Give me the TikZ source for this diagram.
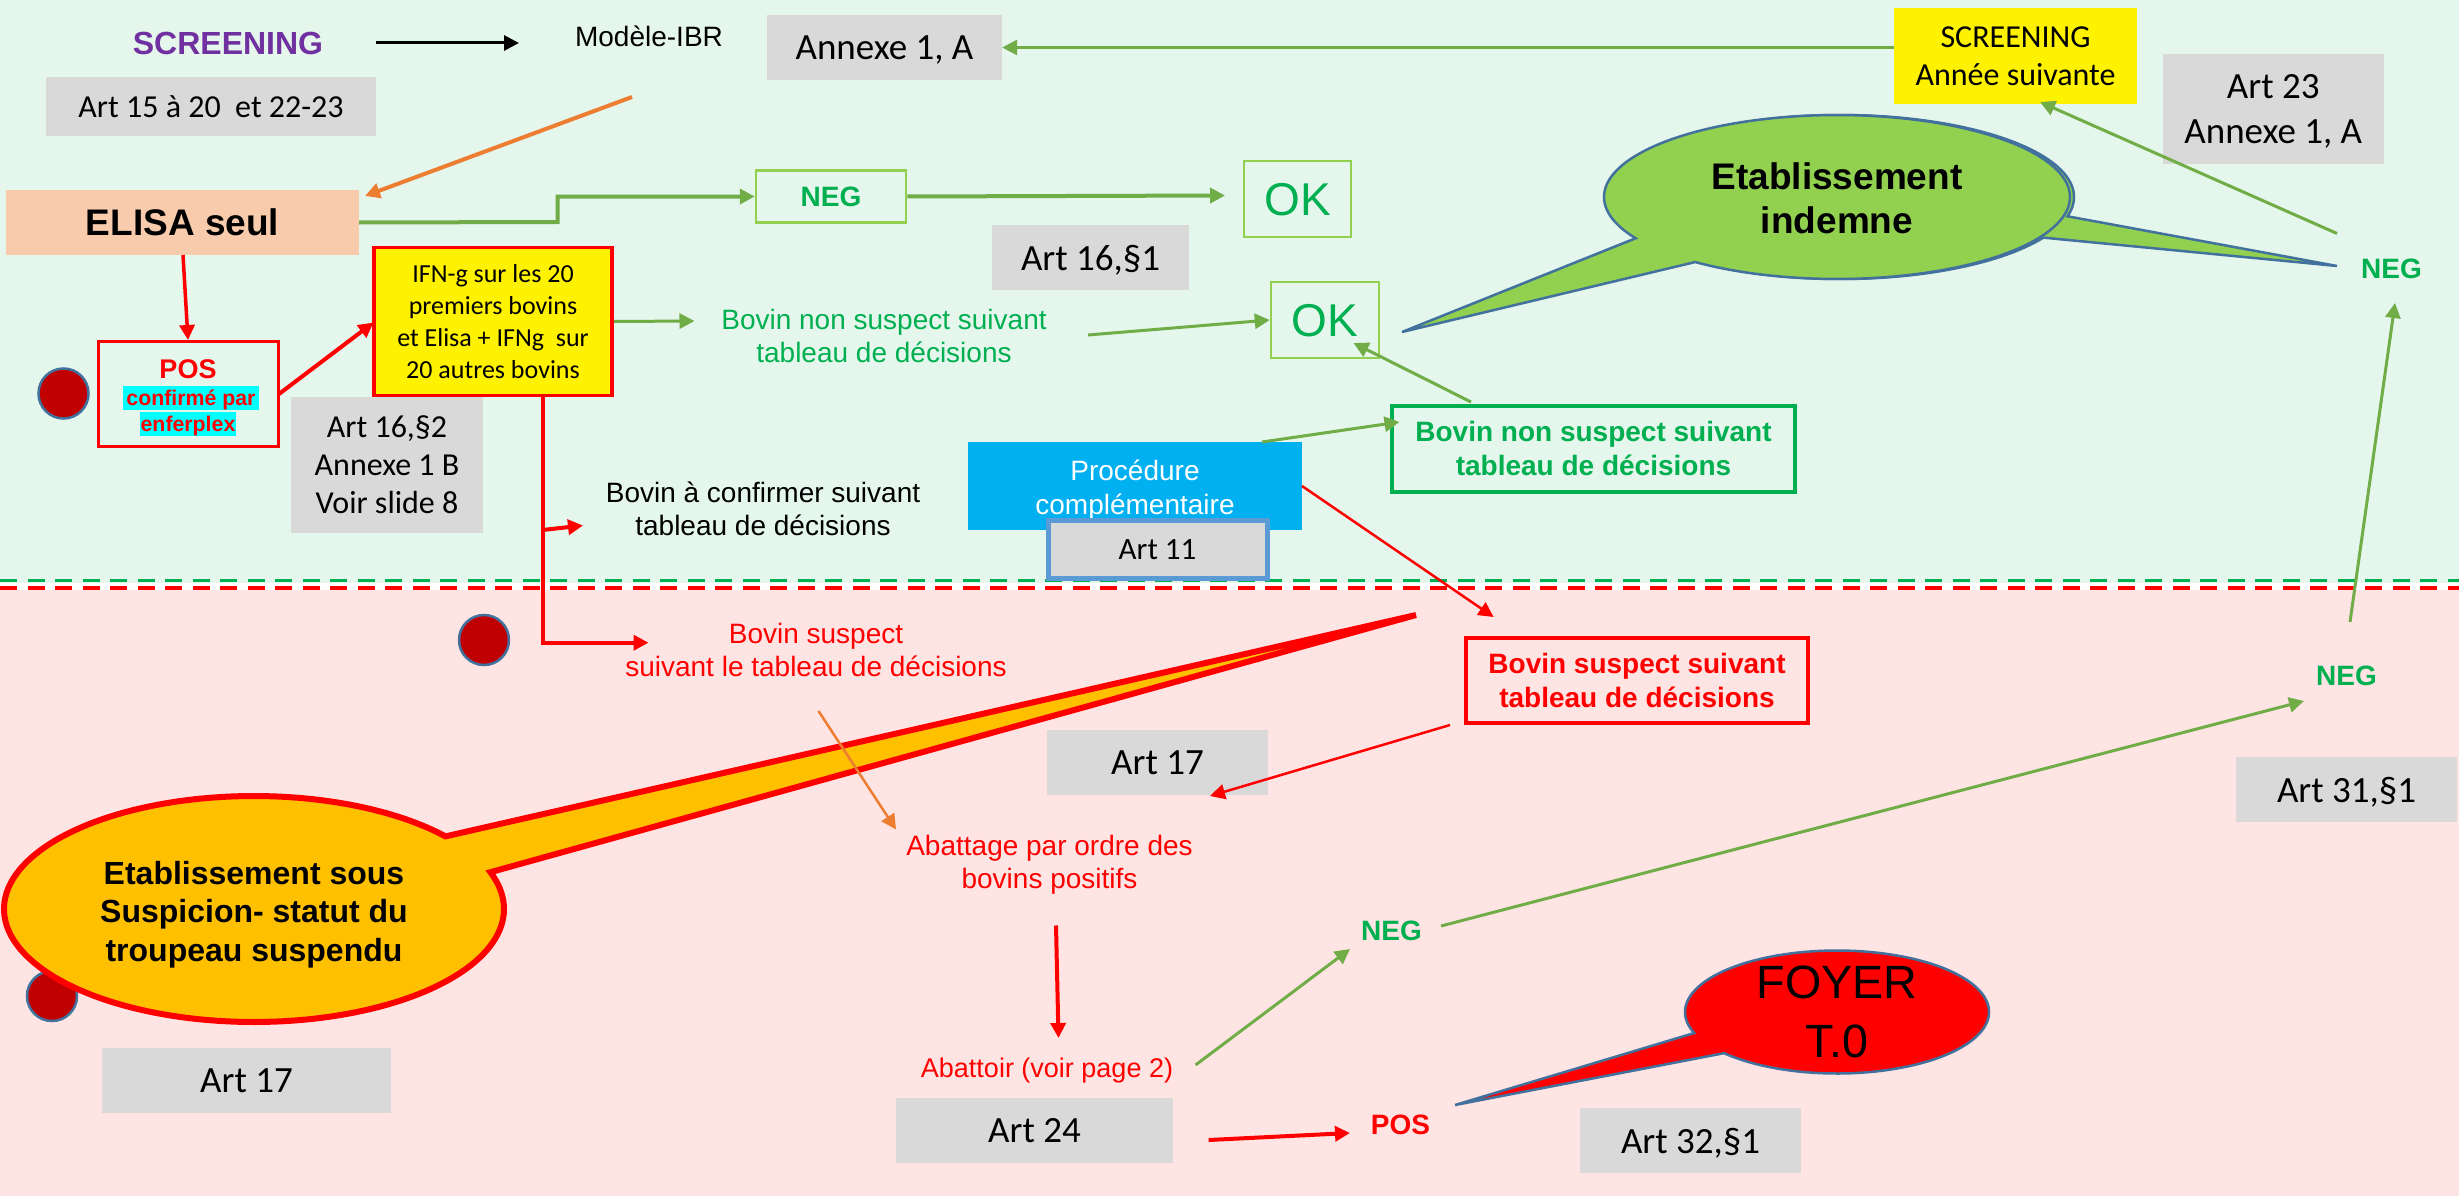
\documentclass[tikz,border=0pt]{standalone}
\usepackage{fontspec}
\setmainfont{Liberation Sans}
\newfontfamily\carl{Carlito}
\usetikzlibrary{arrows.meta,shapes.geometric}
\definecolor{bggreen}{HTML}{E5F6ED}
\definecolor{bgpink}{HTML}{FFE4E4}
\definecolor{boxgray}{HTML}{D9D9D9}
\definecolor{linegreen}{HTML}{70AD47}
\definecolor{lightgreen}{HTML}{92D050}
\definecolor{txtgreen}{HTML}{00B050}
\definecolor{orangeline}{HTML}{ED7D31}
\definecolor{darkred}{HTML}{C00000}
\definecolor{outlineblue}{HTML}{41719C}
\definecolor{purpletxt}{HTML}{7030A0}
\definecolor{skyfill}{HTML}{00B0F0}
\definecolor{amberfill}{HTML}{FFC000}
\definecolor{artborder}{HTML}{5B9BD5}
\definecolor{peachfill}{HTML}{F8CBAD}
\definecolor{hlcyan}{HTML}{00FFFF}
\newcommand\fs[2]{\fontsize{#1}{#2}\selectfont}
\tikzset{
  every node/.append style={text depth=0pt},
  art/.style={fill=boxgray,inner sep=0pt,align=center,text=black,font=\carl\fs{37}{45.5}},
  artsmall/.style={art,font=\carl\fs{32}{38}},
  plain/.style={inner sep=0pt,align=center,font=\fs{28}{33.6}},
  boldt/.style={inner sep=0pt,align=center,font=\bfseries\fs{28}{34.5}},
  dot/.style={ellipse,draw=outlineblue,line width=2.5pt,fill=darkred,inner sep=0pt,minimum width=50pt,minimum height=50pt},
  ga/.style={draw=linegreen,line width=3pt,-{Triangle[length=15pt,width=15pt]}},
  gb/.style={ga,line width=4pt},
  ra/.style={draw=red,line width=2.5pt,-{Triangle[length=15pt,width=15pt]}},
  rb/.style={ra,line width=4pt},
  oa/.style={draw=orangeline,-{Triangle[length=15pt,width=15pt]}},
}
\begin{document}
\begin{tikzpicture}[x=1pt,y=-1pt]
\useasboundingbox (0,0) rectangle (2459,1196);
% backgrounds
\fill[white] (0,0) rectangle (2459,1196);
\fill[bggreen] (0,0) rectangle (2459,583);
\fill[bgpink] (0,589.5) rectangle (2459,1196);
\coordinate (gl) at (0,580.5); \coordinate (gr) at (2459,580.5);
\coordinate (rl) at (0,588); \coordinate (rr) at (2459,588);
\draw[txtgreen,line width=3.5pt,dash pattern=on 17pt off 10.5pt] (gl) -- (gr);
\draw[red,line width=3.5pt,dash pattern=on 17pt off 10.5pt] (rl) -- (rr);

% dots
\node[dot] (dot1) at (63.5,393.5) {};
\node[dot] (dot2) at (484,640) {};
\node[dot] (dot3) at (52,996) {};

% top-left
\node[inner sep=0pt,text=purpletxt,font=\bfseries\fs{32}{38}] (screen) at (228,43) {SCREENING};
\node[inner sep=0pt,font=\fs{28}{33}] (modele) at (649,36) {Modèle-IBR};
\node[artsmall,minimum width=330pt,minimum height=59pt] (art15) at (211,106.5) {Art 15 à 20\ \ et 22-23};
\node[art,minimum width=235pt,minimum height=65pt] (annexeA) at (884.5,47.5) {Annexe 1, A};
\coordinate (s1) at (375.5,43); \coordinate (s2) at (519,43);
\draw[black,line width=3pt,-{Triangle[length=15pt,width=15pt]}] (s1) -- (s2);

\node[fill=yellow,inner sep=0pt,align=center,minimum width=243pt,minimum height=96.5pt,font=\carl\fs{32}{38.5}] (ysc) at (2015.5,56.25) {SCREENING\\Année suivante};
\node[art,minimum width=221.5pt,minimum height=110pt] (art23) at (2273.25,109) {Art 23\\Annexe 1, A};
\draw[ga] (ysc.west |- annexeA.east) -- (annexeA.east);

\node[fill=peachfill,inner sep=0pt,minimum width=353pt,minimum height=65pt,font=\bfseries\fs{37}{44}] (elisa) at (182.5,222.5) {ELISA seul};
\coordinate (o1) at (632,97); \coordinate (o2) at (365,196);
\draw[oa,line width=4pt] (o1) -- (o2);

\node[draw=lightgreen,line width=2.5pt,inner sep=0pt,minimum width=150pt,minimum height=52pt,text=txtgreen,font=\bfseries\fs{28}{33}] (neg1) at (831,196.5) {NEG};
\draw[gb] (elisa.east) -- (557.5,222) -- (557.5,196.5) -- (neg1.west);
\node[draw=lightgreen,line width=2.5pt,inner sep=0pt,minimum width=107pt,minimum height=76pt,text=txtgreen,font=\fs{46}{50}] (ok1) at (1297.5,199) {OK};
\coordinate (n1e) at (1225,195.5);
\draw[gb] (neg1.east) -- (n1e);
\node[art,minimum width=197pt,minimum height=65pt] (art161) at (1090.5,257.5) {Art 16,§1};
\node[draw=lightgreen,line width=2.5pt,inner sep=0pt,minimum width=108pt,minimum height=76pt,text=txtgreen,font=\fs{46}{50}] (ok2) at (1325,320) {OK};

% POS / IFN
\node[draw=red,line width=2.5pt,inner sep=0pt,minimum width=180pt,minimum height=105pt] (posbox) at (188.5,394) {};
\node[inner sep=0pt,text=red,font=\bfseries\fs{27}{32}] (postxt) at (188,369) {POS};
\node[fill=hlcyan,inner sep=0pt,minimum width=136pt,minimum height=24pt,text=red,font=\bfseries\fs{21.3}{24}] (conf) at (191,398) {confirmé par};
\node[fill=hlcyan,inner sep=0pt,minimum width=96pt,minimum height=24pt,text=red,font=\bfseries\fs{21.3}{24}] (enf) at (188,424) {enferplex};
\coordinate (eb) at (183,255); \coordinate (pt) at (188,340);
\draw[ra,line width=3.5pt] (eb) -- (pt);
\node[fill=yellow,draw=red,line width=3.5pt,inner sep=0pt,align=center,minimum width=238pt,minimum height=148pt,font=\carl\fs{26}{32}] (ifn) at (493,321.5) {IFN-g sur les 20\\premiers bovins\\et Elisa + IFNg\ \ sur\\20 autres bovins};
\coordinate (pe) at (279,394); \coordinate (ifnw) at (373.5,322.5);
\draw[rb] (pe) -- (ifnw);
\node[art,font=\carl\fs{32}{38},minimum width=192pt,minimum height=136pt] (art162) at (387,465) {Art 16,§2\\Annexe 1 B\\Voir slide 8};

\node[plain,text=txtgreen] (bns) at (884,336) {Bovin non suspect suivant\\tableau de décisions};
\coordinate (bnsw) at (694.5,321);
\draw[ga] (ifn.east) -- (bnsw);
\coordinate (bnse) at (1088,335);
\draw[ga] (bnse) -- (ok2.west);

\node[draw=txtgreen,line width=4pt,inner sep=0pt,align=center,minimum width=403pt,minimum height=86pt,text=txtgreen,font=\bfseries\fs{28}{34.5}] (bnsb) at (1593.5,448.5) {Bovin non suspect suivant\\tableau de décisions};
\coordinate (bb1) at (1471,402); \coordinate (okb) at (1353.5,343);
\draw[ga] (bb1) -- (okb);

\node[plain] (bconf) at (763,508.5) {Bovin à confirmer suivant\\tableau de décisions};
\node[fill=skyfill,inner sep=0pt,minimum width=334pt,minimum height=88pt] (proc) at (1135,486) {};
\node[plain,text=white] (proct) at (1135,487) {Procédure\\complémentaire};
\coordinate (p1) at (1262,442); \coordinate (p2) at (1399.5,422);
\draw[ga] (p1) -- (p2);
\node[fill=boxgray,draw=artborder,line width=5pt,inner sep=0pt,minimum width=219pt,minimum height=58pt,font=\carl\fs{31}{36}] (art11) at (1157.5,549.5) {Art 11};

% red connectors
\coordinate (ifnb) at (542.5,396);
\coordinate (elb) at (542.5,642.7);
\coordinate (bsw) at (648.5,642.7);
\coordinate (br) at (542.5,530);
\coordinate (bcw) at (583,525.5);
\draw[rb] (ifnb) -- (elb) -- (bsw);
\draw[rb] (br) -- (bcw);

\node[plain,text=red] (bs) at (816,650) {Bovin suspect\\suivant le tableau de décisions};

% big callout
\coordinate (tip1) at (1416,615);
\draw[draw=red,line width=6pt,fill=amberfill] plot[domain=40:379,samples=160,variable=\t] ({254+250*cos(\t)},{909-113*sin(\t)}) -- (tip1) -- cycle;
\node[inner sep=0pt,align=center,font=\bfseries\fs{32}{38.5}] (etab) at (254,911) {Etablissement sous\\Suspicion- statut du\\troupeau suspendu};
\node[art,minimum width=289pt,minimum height=65pt] (art17a) at (246.5,1080.5) {Art 17};

\node[draw=red,line width=4pt,inner sep=0pt,align=center,minimum width=342pt,minimum height=85pt,text=red,font=\bfseries\fs{28}{33.6}] (bsb) at (1637,680.5) {Bovin suspect suivant\\tableau de décisions};
\coordinate (pr) at (1302,486); \coordinate (bst) at (1493.6,617);
\draw[ra] (pr) -- (bst);

\node[art,minimum width=221pt,minimum height=65pt] (art17b) at (1157.5,762.5) {Art 17};
\coordinate (bsl) at (1450,725); \coordinate (a17) at (1210,796);
\draw[ra] (bsl) -- (a17);

\node[plain,text=red] (abg) at (1049.5,862) {Abattage par ordre des\\bovins positifs};
\coordinate (bsb2) at (818.5,711); \coordinate (abgn) at (896,829.5);
\draw[oa,line width=2.5pt] (bsb2) -- (abgn);
\coordinate (ab1) at (1056,925.5); \coordinate (ab2) at (1058.5,1038);
\draw[rb] (ab1) -- (ab2);
\node[inner sep=0pt,text=red,font=\fs{27}{32}] (abt) at (1047,1068) {Abattoir (voir page 2)};
\node[art,minimum width=277pt,minimum height=65pt] (art24) at (1034.5,1130.5) {Art 24};

\node[boldt,text=txtgreen] (neg2) at (1391.5,931) {NEG};
\node[boldt,text=red] (pos2) at (1400.5,1125) {POS};
\coordinate (abe) at (1195.5,1065); \coordinate (negs) at (1350,949);
\draw[ga] (abe) -- (negs);
\coordinate (ar1) at (1208.6,1140); \coordinate (ar2) at (1350,1133);
\draw[rb] (ar1) -- (ar2);

\node[boldt,text=txtgreen] (neg3) at (2346.5,676) {NEG};
\coordinate (n2e) at (1441,926); \coordinate (n3w) at (2304,701);
\draw[ga] (n2e) -- (n3w);
\node[art,minimum width=221pt,minimum height=65pt] (art31) at (2346.5,789.5) {Art 31,§1};

\node[boldt,text=txtgreen] (neg4) at (2391.5,269) {NEG};
\coordinate (n3t) at (2350,622); \coordinate (n4b) at (2395,303);
\draw[ga] (n3t) -- (n4b);
\coordinate (n4l) at (2337,233.5); \coordinate (ysb) at (2040,102);
\draw[ga] (n4l) -- (ysb);

% green callouts
\coordinate (tip2) at (2337,266);
\coordinate (tip3) at (1402,332);
\draw[draw=outlineblue,line width=2.5pt,fill=lightgreen] plot[domain=-13.6:330.3,samples=160,variable=\t] ({1841+233*cos(\t)},{197-82*sin(\t)}) -- (tip2) -- cycle;
\draw[draw=outlineblue,line width=2.5pt,fill=lightgreen] plot[domain=232.5:570.2,samples=160,variable=\t] ({1837+233*cos(\t)},{197-82*sin(\t)}) -- (tip3) -- cycle;
\node[inner sep=0pt,align=center,font=\bfseries\fs{37}{44}] (indem) at (1837,198) {Etablissement\\indemne};

% foyer
\coordinate (tip4) at (1455,1105);
\draw[draw=outlineblue,line width=2.5pt,fill=red] plot[domain=222:560,samples=160,variable=\t] ({1837+152*cos(\t)},{1012-61.5*sin(\t)}) -- (tip4) -- cycle;
\node[inner sep=0pt,align=center,font=\fs{46.7}{59}] (foyer) at (1837,1012) {FOYER\\T.0};
\node[art,minimum width=221pt,minimum height=65pt] (art32) at (1690.5,1140.5) {Art 32,§1};
\end{tikzpicture}
\end{document}
